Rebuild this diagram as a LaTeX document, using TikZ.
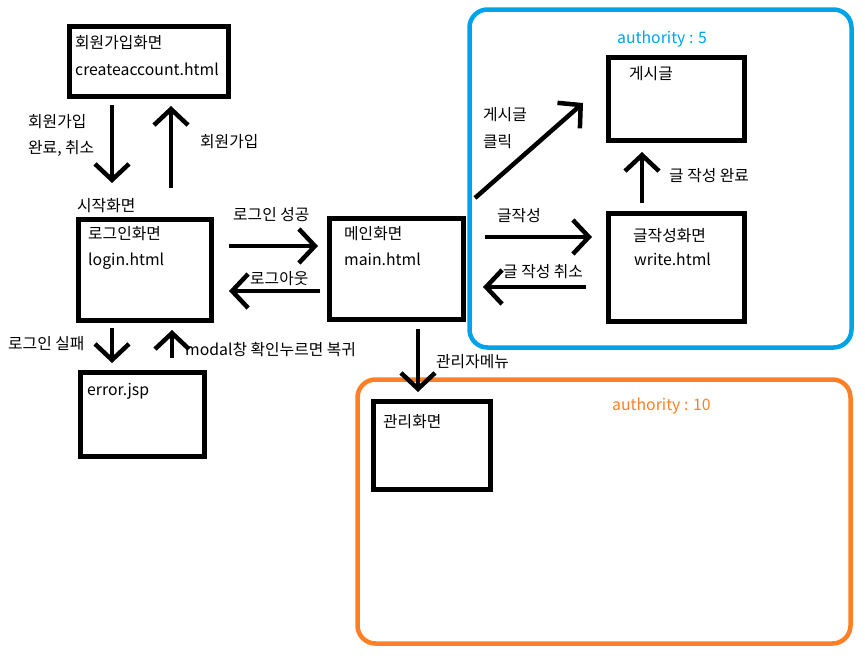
\documentclass[tikz,border=0pt]{standalone}
\usepackage{fontspec}
\setmainfont{Noto Sans CJK KR}
\usetikzlibrary{arrows.meta}
\definecolor{zoneblue}{HTML}{00A2E8}
\definecolor{zoneorange}{HTML}{FF7F27}
\tikzset{
  screen/.style={draw, line width=4.5pt, inner sep=0pt, outer sep=0pt},
  zone/.style={draw, rounded corners=18pt, line width=4.5pt, inner sep=0pt, outer sep=0pt},
  flow/.style={line width=4.5pt, -{Straight Barb[length=16pt,width=34pt]}},
  txt/.style={anchor=base west, inner sep=0pt, font=\fontsize{15.8}{18}\selectfont}
}
\begin{document}
\begin{tikzpicture}[x=1pt,y=-1pt]
    \useasboundingbox (0,0) rectangle (865,656);
    % Define the authority zones
    \node[zone, draw=zoneblue, minimum width=382pt, minimum height=338pt] (userzone) at (660.5,178.5) {};
    \node[zone, draw=zoneorange, minimum width=493pt, minimum height=264pt] (adminzone) at (604,511.5) {};
    \node[txt, text=zoneblue] (userauth) at (617,43) {authority : 5};
    \node[txt, text=zoneorange] (adminauth) at (612,410) {authority : 10};
    % Define the screens
    \foreach \name/\x/\y/\w/\h in {create/149/61.5/159/70, login/145/270/133/101,
        main/396.5/269/134/101, error/142.5/414.5/124/84, admin/432/445.5/117/88,
        post/676.5/99/136/83, write/676.5/267.5/136/108} {
        \node[screen, minimum width=\w pt, minimum height=\h pt] (\name) at (\x,\y) {};
    }
    % Screen titles and labels
    \foreach \x/\y/\t [count=\k] in {75/48/회원가입화면, 75/75/createaccount.html,
        88/239/로그인화면, 88/265/login.html, 344/239/메인화면, 344/265/main.html,
        87/395/error.jsp, 383/427/관리화면, 629/79/게시글, 633/241/글작성화면,
        634/265/write.html, 28/127/회원가입, 28/153/{완료, 취소}, 200/147/회원가입,
        77/211/시작화면, 233/220/로그인 성공, 250/284/로그아웃, 8/349/로그인 실패,
        185/355/modal창 확인누르면 복귀, 436/367/관리자메뉴, 483/120/게시글, 483/147/클릭,
        669/181/글 작성 완료, 497/221/글작성, 503/277/글 작성 취소} {
        \node[txt] (lbl\k) at (\x,\y) {\t};
    }
    % Add transitions
    \draw[flow] ([shift={(-37,8.5)}]create.south) -- ([shift={(-33,-36.5)}]login.north);
    \draw[flow] ([shift={(26,-31.5)}]login.north) -- ([shift={(22,9.5)}]create.south);
    \draw[flow] ([shift={(17.5,-24)}]login.east) -- ([shift={(-11.5,-23)}]main.west);
    \draw[flow] ([shift={(-9.5,22)}]main.west) -- ([shift={(17.5,21)}]login.east);
    \draw[flow] ([shift={(-33,7.5)}]login.south) -- ([shift={(-30.5,-9.5)}]error.north);
    \draw[flow] ([shift={(29.5,-14.5)}]error.north) -- ([shift={(27,9.5)}]login.south);
    \draw[flow] ([shift={(21.5,9.5)}]main.south) -- ([shift={(-14,-9.5)}]admin.north);
    \draw[flow] ([shift={(11.5,-20.5)}]main.north east) -- ([shift={(-25.5,-37.5)}]post.south west);
    \draw[flow] ([shift={(21.5,-32)}]main.east) -- ([shift={(-16.5,-30.5)}]write.west);
    \draw[flow] ([shift={(-22.5,19.5)}]write.west) -- ([shift={(19.5,18)}]main.east);
    \draw[flow] ([shift={(-34.5,-10.5)}]write.north) -- ([shift={(-34.5,11.5)}]post.south);
\end{tikzpicture}
\end{document}
